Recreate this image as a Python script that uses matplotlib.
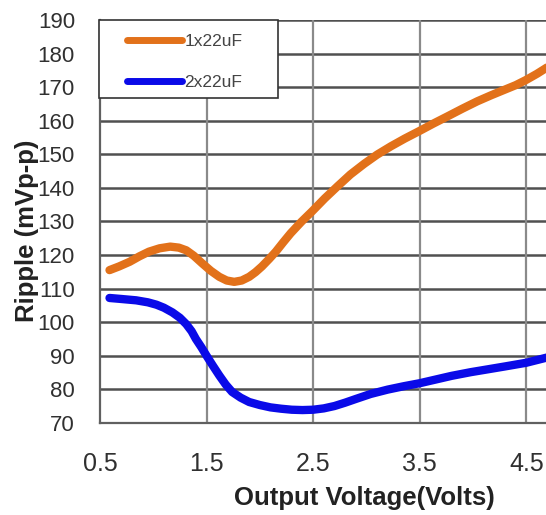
import numpy as np
import matplotlib
matplotlib.use('Agg')
import matplotlib.pyplot as plt
from matplotlib.patches import Rectangle

# output voltage (V) vs ripple (mVp-p), 1 x 22uF output cap
v_1x = [0.59, 0.68, 0.78, 0.87, 0.96, 1.06, 1.16, 1.24, 1.31, 1.38, 1.46, 1.54, 1.62, 1.69,
        1.76, 1.83, 1.90, 1.96, 2.02, 2.09, 2.15, 2.22, 2.29, 2.39, 2.49, 2.61, 2.73, 2.85,
        2.98, 3.10, 3.23, 3.36, 3.50, 3.63, 3.76, 3.90, 4.04, 4.17, 4.30, 4.40, 4.50, 4.60, 4.70]
r_1x = [115.5, 116.6, 118.0, 119.6, 121.0, 122.0, 122.5, 122.2, 121.4, 119.8, 117.5, 115.3, 113.5, 112.4,
        112.0, 112.4, 113.5, 114.9, 116.6, 118.9, 121.0, 123.8, 126.5, 129.9, 133.0, 136.9, 140.5, 144.0,
        147.2, 149.9, 152.4, 154.7, 157.0, 159.2, 161.3, 163.6, 165.8, 167.6, 169.3, 170.6, 172.2, 174.0, 176.0]

# same with 2 x 22uF
v_2x = [0.59, 0.70, 0.84, 0.95, 1.03, 1.10, 1.18, 1.25, 1.31, 1.36, 1.40, 1.45, 1.50, 1.56,
        1.62, 1.68, 1.74, 1.82, 1.90, 2.00, 2.10, 2.20, 2.30, 2.40, 2.50, 2.60, 2.70, 2.80,
        2.90, 3.04, 3.20, 3.35, 3.50, 3.65, 3.80, 3.98, 4.15, 4.30, 4.50, 4.70]
r_2x = [107.2, 106.9, 106.5, 105.9, 105.2, 104.3, 102.9, 101.3, 99.4, 97.3, 95.0, 92.6, 90.0, 87.0,
        84.1, 81.4, 79.2, 77.5, 76.2, 75.3, 74.6, 74.2, 73.9, 73.8, 73.9, 74.3, 75.0, 76.0,
        77.1, 78.6, 79.9, 80.9, 81.8, 82.9, 84.0, 85.1, 86.0, 86.8, 87.9, 89.5]

xticks = [0.5, 1.5, 2.5, 3.5, 4.5]
yticks = list(range(70, 191, 10))

plt.rcParams['font.family'] = ['Liberation Sans', 'DejaVu Sans']

fig = plt.figure(figsize=(5.46, 5.15), dpi=100)
ax = fig.add_axes([0.183, 0.179, 0.82, 0.782])

ax.plot(v_1x, r_1x, color='#E2711A', lw=6, solid_joinstyle='round', solid_capstyle='round',
        label='1x22uF', zorder=3)
ax.plot(v_2x, r_2x, color='#0A0AE8', lw=6, solid_joinstyle='round', solid_capstyle='round',
        label='2x22uF', zorder=3)

ax.set_xlim(0.5, 4.7)
ax.set_ylim(70, 190)
ax.set_xticks(xticks)
ax.set_xticklabels([str(t) for t in xticks])
ax.set_yticks(yticks)

for y in yticks[1:]:
    ax.axhline(y, color='#505050', lw=1.8, zorder=1)
for x in xticks[1:]:
    ax.axvline(x, color='#8a8a8a', lw=1.6, zorder=1)

for s in ['left', 'bottom']:
    ax.spines[s].set_color('#606060')
    ax.spines[s].set_linewidth(1.6)
ax.spines['right'].set_visible(False)
ax.spines['top'].set_visible(False)

ax.tick_params(axis='y', length=0, pad=18, labelsize=16, labelcolor='#303030')
ax.tick_params(axis='x', length=0, pad=21, labelsize=18, labelcolor='#303030')

ax.set_xlabel('Output Voltage(Volts)', fontsize=18.5, fontweight='bold', color='#222222')
ax.xaxis.set_label_coords(0.59, -0.158)
ax.set_ylabel('Ripple (mVp-p)', fontsize=18.5, fontweight='bold', color='#222222')
ax.yaxis.set_label_coords(-0.135, 0.477)

# legend box drawn separately so the entries can sit inside it freely
ax.add_patch(Rectangle((-0.002, 0.807), 0.4, 0.193, transform=ax.transAxes, facecolor='white',
                       edgecolor='#333333', lw=1.2, zorder=4, clip_on=False))
leg = ax.legend(loc='upper left', bbox_to_anchor=(0.06, 0.966), borderaxespad=0, borderpad=0,
                fontsize=12.5, handlelength=3.2, handletextpad=0.12, labelspacing=1.5,
                frameon=False)
leg.set_zorder(5)
for line in leg.get_lines():
    line.set_linewidth(5)
    line.set_solid_capstyle('round')
for t in leg.get_texts():
    t.set_color('#444444')

fig.savefig('out.png', dpi=100)
